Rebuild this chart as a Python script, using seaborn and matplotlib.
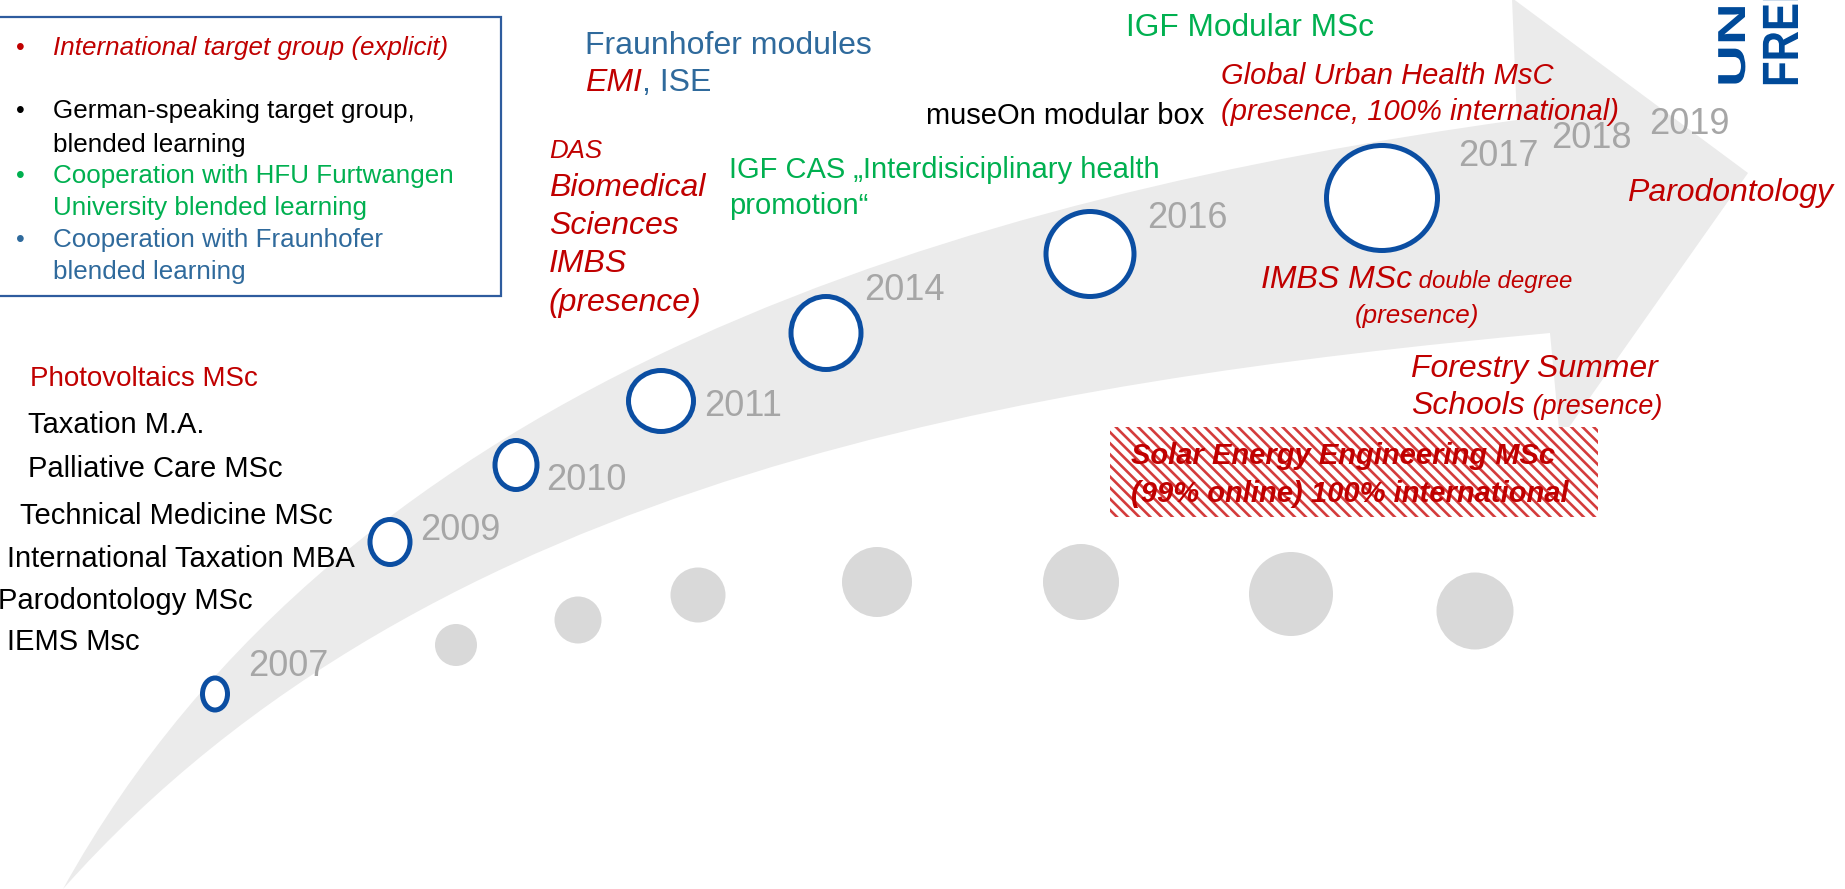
import numpy as np
import pandas as pd
import seaborn as sns
import matplotlib.pyplot as plt
from matplotlib.patches import Ellipse, Rectangle, PathPatch
from matplotlib.path import Path
from matplotlib.textpath import TextPath
from matplotlib.font_manager import FontProperties
from matplotlib.transforms import Affine2D

# --- data (pixel coordinates of the slide, y grows downwards) ---
ring_years = ['2007', '2009', '2010', '2011', '2014', '2016', '2017']
ring_x = [215, 390, 516, 661, 826, 1090, 1382]
ring_y = [694, 542, 465, 401, 333, 254, 198]
ring_w = [30, 45, 47, 70, 75, 93, 116]
ring_h = [37, 50, 54, 66, 78, 90, 110]

year_labels = ['2007', '2009', '2010', '2011', '2014', '2016', '2017', '2018', '2019']
year_x = [248, 420, 546, 704, 864, 1147, 1458, 1551, 1649]
year_y = [666, 531, 481, 407, 291, 218, 156, 139, 124]

dot_x = [456, 578, 698, 877, 1081, 1291, 1475]
dot_y = [645, 620, 595, 582, 582, 594, 611]
dot_diam = [42, 47, 55, 70, 76, 84, 77]

# arrow outline samples
upper_x = [63, 190, 357, 473, 560, 707, 857, 1036, 1200, 1350, 1517]
upper_y = [889, 694, 542, 465, 402, 330, 280, 218, 172, 143, 120]
lower_x = [63, 172, 310, 450, 622, 730, 857, 1040, 1300, 1550]
lower_y = [889, 767, 677, 597, 520, 480, 446, 398, 360, 333]
head_x = [1512, 1748, 1560]
head_y = [-2, 173, 440]

left_programs = ['Photovoltaics MSc', 'Taxation M.A.', 'Palliative Care MSc',
                 'Technical Medicine MSc', 'International Taxation MBA',
                 'Parodontology MSc', 'IEMS Msc']
left_x = [30, 28, 28, 20, 7, -2, 7]
left_y = [379, 425, 469, 516, 559, 601, 642]

legend_lines = ['International target group (explicit)',
                'German-speaking target group,', 'blended learning',
                'Cooperation with HFU Furtwangen', 'University blended learning',
                'Cooperation with Fraunhofer', 'blended learning']
legend_y = [48, 111, 145, 176, 208, 240, 272]
legend_bullet = [True, True, False, True, False, True, False]

RED = '#C00000'
GREEN = '#00B050'
BLUE_T = '#2F6A9C'
GREY = '#A6A6A6'
RING = '#0B4EA2'
LOGO = '#004A99'
legend_col = [RED, 'black', 'black', GREEN, GREEN, BLUE_T, BLUE_T]

sns.set_theme(style='white')
plt.rcParams['font.family'] = ['Liberation Sans', 'DejaVu Sans']
plt.rcParams['hatch.linewidth'] = 1.9

fig = plt.figure(figsize=(18.45, 8.89), dpi=100)
ax = fig.add_axes([0, 0, 1, 1])


def bezier_fit(xs, ys):
    pts = np.column_stack([xs, ys]).astype(float)
    d = np.r_[0, np.cumsum(np.hypot(*np.diff(pts, axis=0).T))]
    t = d / d[-1]
    b0, b1, b2, b3 = (1 - t) ** 3, 3 * (1 - t) ** 2 * t, 3 * (1 - t) * t ** 2, t ** 3
    rhs = pts - np.outer(b0, pts[0]) - np.outer(b3, pts[-1])
    ctrl = np.linalg.lstsq(np.column_stack([b1, b2]), rhs, rcond=None)[0]
    return [pts[0], ctrl[0], ctrl[1], pts[-1]]


# big grey arrow
up = bezier_fit(upper_x, upper_y)
lo = bezier_fit(lower_x, lower_y)
verts = up + list(zip(head_x, head_y)) + [lo[3], lo[2], lo[1], lo[0], lo[0]]
codes = ([Path.MOVETO] + [Path.CURVE4] * 3 + [Path.LINETO] * 4
         + [Path.CURVE4] * 3 + [Path.CLOSEPOLY])
ax.add_patch(PathPatch(Path(verts, codes), facecolor='#EBEBEB', edgecolor='none', zorder=1))

# grey dots under the arrow
dots = pd.DataFrame({'x': dot_x, 'y': dot_y, 'area': (np.array(dot_diam) * 0.72) ** 2})
sns.scatterplot(data=dots, x='x', y='y', size='area',
                sizes=(dots['area'].min(), dots['area'].max()),
                size_norm=(dots['area'].min(), dots['area'].max()),
                color='#D9D9D9', linewidth=0, legend=False, ax=ax, zorder=2)

ax.set_xlim(0, 1845)
ax.set_ylim(889, 0)
ax.set_axis_off()

# blue milestone rings
lw_px = 5
for x, y, w, h in zip(ring_x, ring_y, ring_w, ring_h):
    ax.add_patch(Ellipse((x, y), w - lw_px, h - lw_px, facecolor='white',
                         edgecolor=RING, linewidth=lw_px * 0.72, zorder=3))

for lab, x, y in zip(year_labels, year_x, year_y):
    ax.text(x, y, lab, color=GREY, fontsize=26, ha='left', va='center', zorder=4)

# legend box
ax.add_patch(Rectangle((-5, 17), 506, 279, facecolor='none', edgecolor='#2E5C9E',
                       linewidth=1.6, zorder=4))
for s, y, col, b in zip(legend_lines, legend_y, legend_col, legend_bullet):
    st = 'italic' if col == RED else 'normal'
    if b:
        ax.text(20, y, '\u2022', color=col, fontsize=18, ha='center', va='center', zorder=5)
    ax.text(53, y, s, color=col, fontsize=18.7, style=st, ha='left', va='center', zorder=5)

# programmes on the left
for s, x, y in zip(left_programs, left_x, left_y):
    col = RED if s.startswith('Photo') else 'black'
    ax.text(x, y, s, color=col, fontsize=20 if col == RED else 21, ha='left', va='center', zorder=5)

renderer = fig.canvas.get_renderer()


def text_run(x, y, parts):
    for s, col, size, st, wt in parts:
        t = ax.text(x, y, s, color=col, fontsize=size, style=st, weight=wt,
                    ha='left', va='baseline', zorder=5)
        bb = t.get_window_extent(renderer)
        x = ax.transData.inverted().transform((bb.x1, bb.y0))[0]


def label(x, y, s, col, size, st='normal', wt='normal'):
    ax.text(x, y + 3.5, s, color=col, fontsize=size, style=st, weight=wt,
            ha='left', va='center', zorder=5)


label(585, 42, 'Fraunhofer modules', BLUE_T, 23)
text_run(585, 91, [('EMI', RED, 23, 'italic', 'normal'), (', ISE', BLUE_T, 23, 'normal', 'normal')])

label(549, 148, 'DAS', RED, 18.6, 'italic')
for s, y in zip(['Biomedical', 'Sciences', 'IMBS', '(presence)'], [185, 223, 260, 300]):
    label(549, y, s, RED, 23, 'italic')

label(729, 167, 'IGF CAS \u201eInterdisiciplinary health', GREEN, 21)
label(729, 202, 'promotion\u201c', GREEN, 21)
label(926, 112, 'museOn modular box', 'black', 21)
label(1126, 25, 'IGF Modular MSc', GREEN, 22.8)
label(1221, 73, 'Global Urban Health MsC', RED, 21, 'italic')
label(1221, 108, '(presence, 100% international)', RED, 21, 'italic')
label(1627, 190, 'Parodontology', RED, 23, 'italic')

text_run(1261, 288, [('IMBS MSc', RED, 23, 'italic', 'normal'),
                     (' double degree', RED, 17.3, 'italic', 'normal')])
label(1355, 312, '(presence)', RED, 18.7, 'italic')
label(1411, 365, 'Forestry Summer', RED, 23, 'italic')
text_run(1411, 414, [('Schools', RED, 23, 'italic', 'normal'),
                     (' (presence)', RED, 19.5, 'italic', 'normal')])

# hatched box
ax.add_patch(Rectangle((1110, 427), 488, 90, facecolor='white', edgecolor='#D43C3C',
                       hatch='\\\\\\', linewidth=0, zorder=4))
label(1131, 453, 'Solar Energy Engineering MSc', RED, 21, 'italic', 'bold')
label(1131, 490, '(99% online) 100% international', RED, 21, 'italic', 'bold')

# university logo (rotated wordmark, cut at the top edge)
fp = FontProperties(family='Liberation Sans', weight='bold')
for word, x0, y0, s_along, s_thick in [('UNI', 1745, 87, 58, 39), ('FREIBURG', 1798, 87, 42, 51)]:
    tp = TextPath((0, 0), word, size=1, prop=fp)
    tr = Affine2D(np.array([[0, -s_thick, x0], [-s_along, 0, y0], [0, 0, 1.0]]))
    ax.add_patch(PathPatch(tr.transform_path(tp), facecolor=LOGO, edgecolor='none', zorder=5))

fig.savefig('out.png', dpi=100)
